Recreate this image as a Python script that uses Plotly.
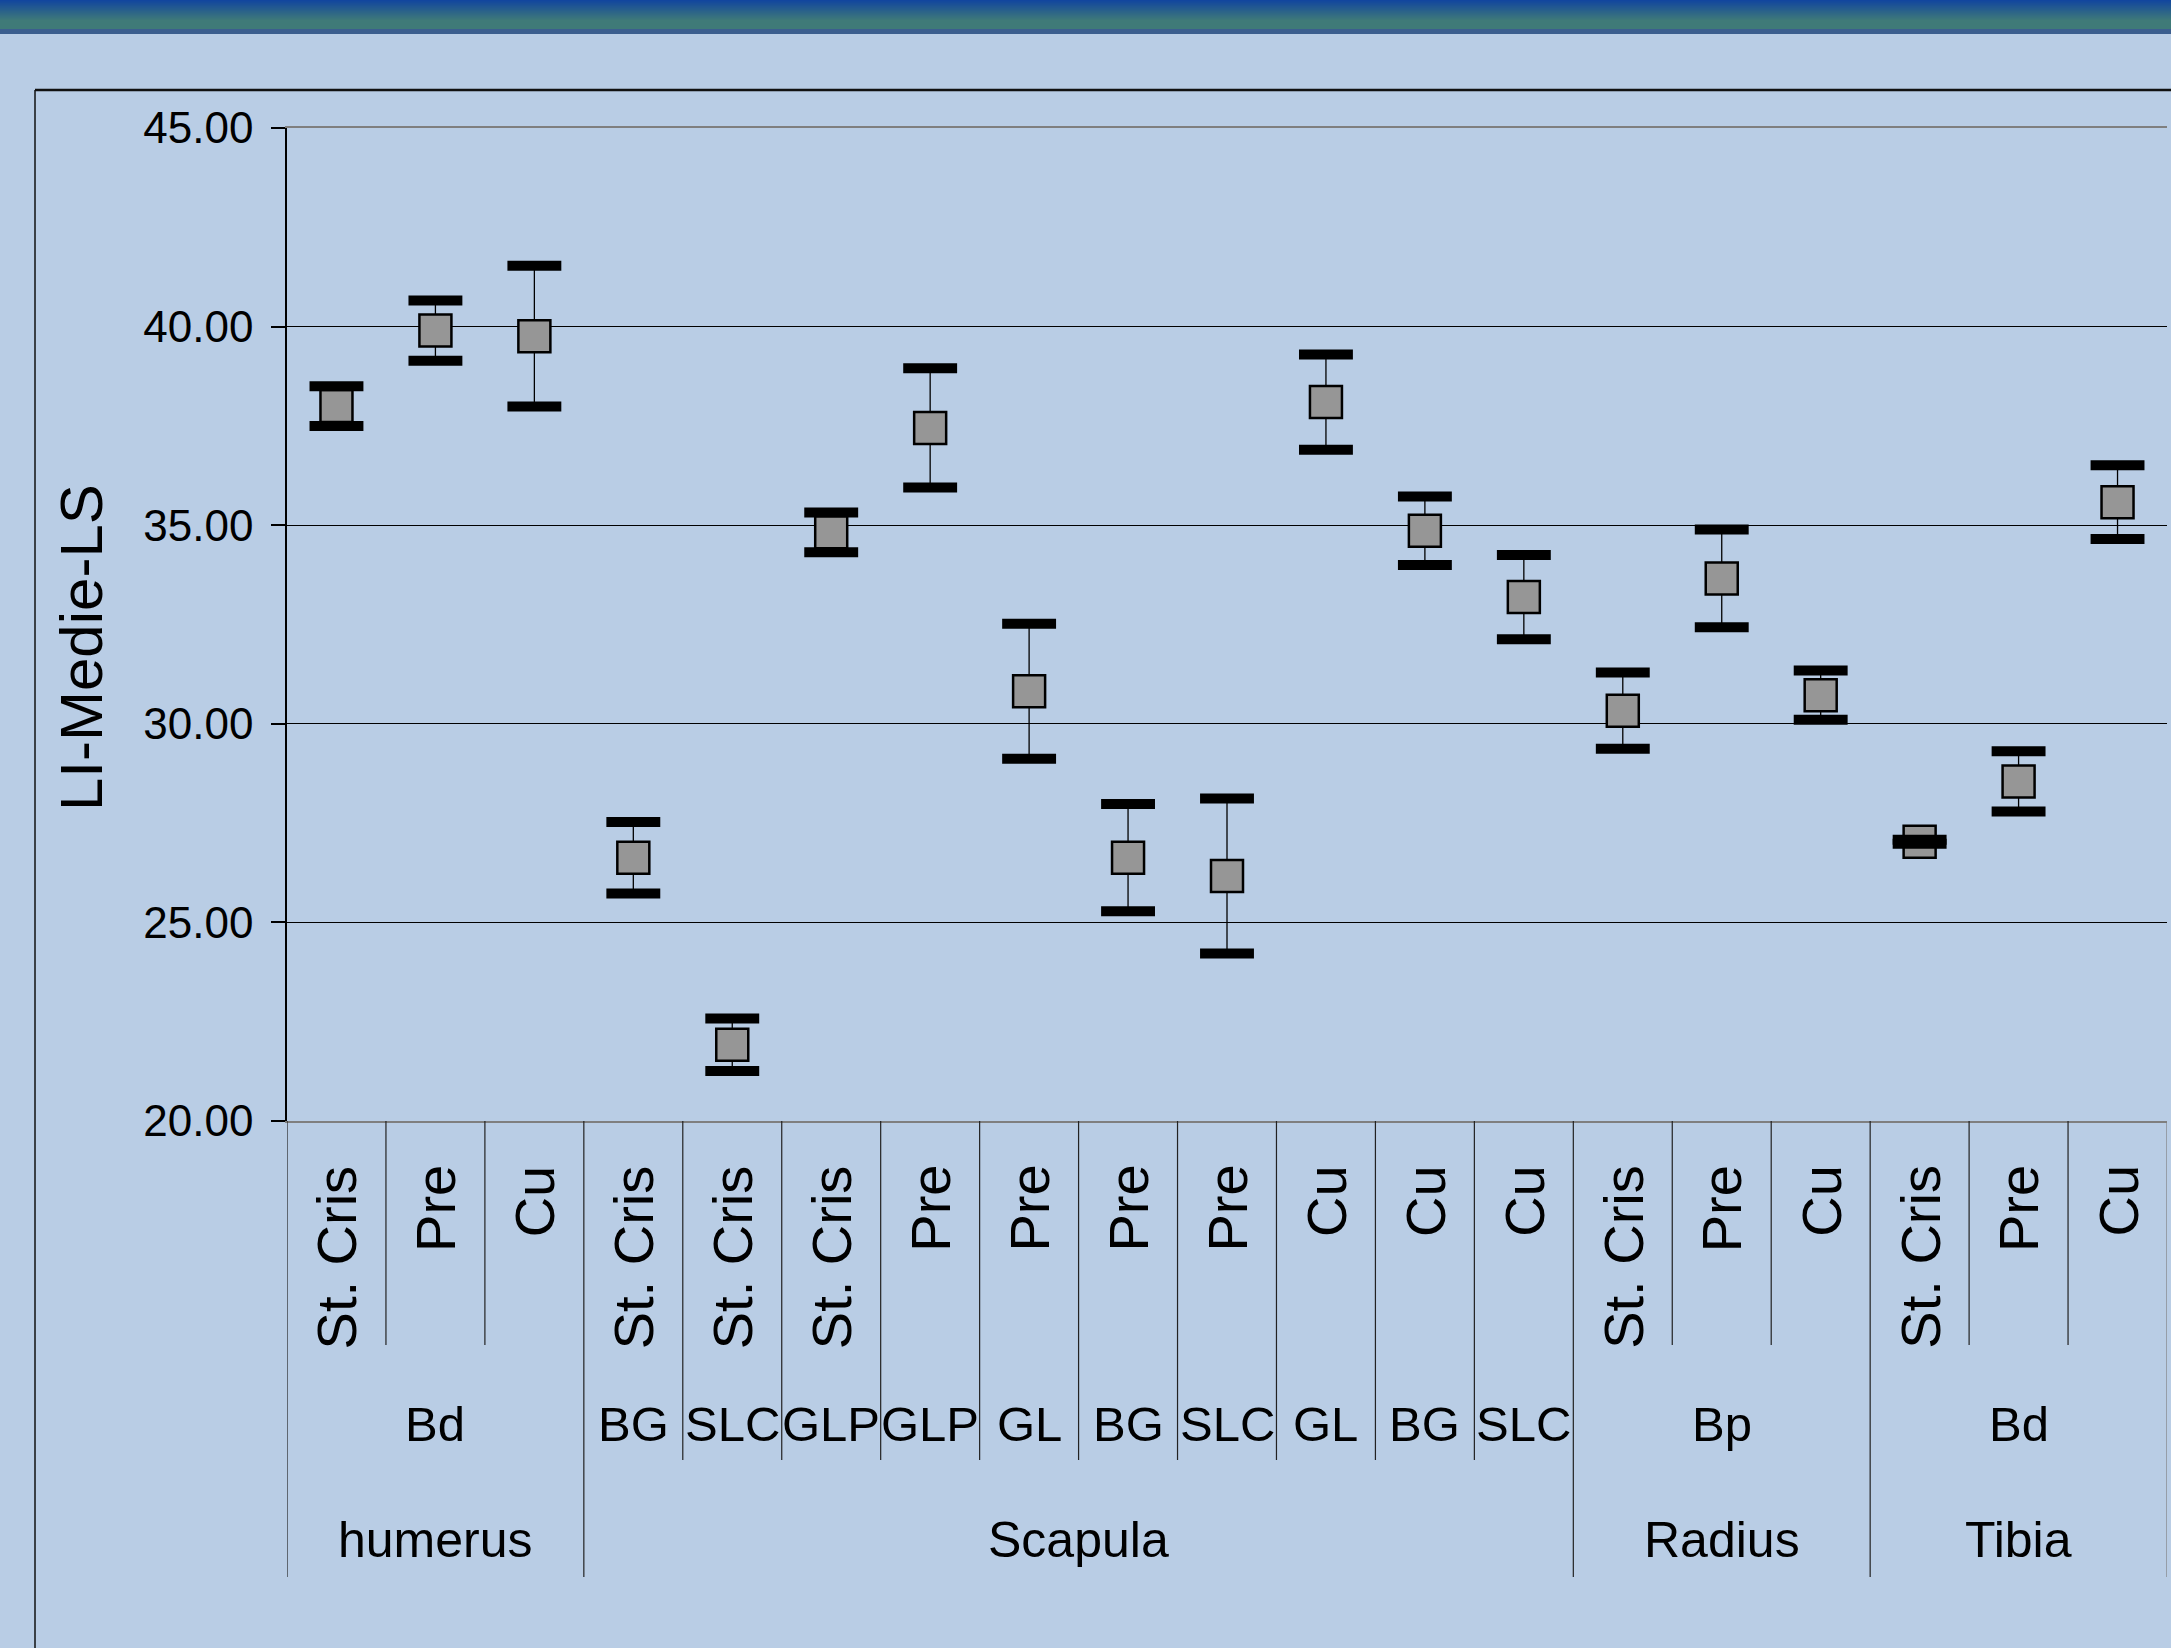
import plotly.graph_objects as go

# ---------------- data ----------------
sub_labels = ["St. Cris", "Pre", "Cu", "St. Cris", "St. Cris", "St. Cris", "Pre", "Pre", "Pre", "Pre",
              "Cu", "Cu", "Cu", "St. Cris", "Pre", "Cu", "St. Cris", "Pre", "Cu"]
measure_groups = [("Bd", 3), ("BG", 1), ("SLC", 1), ("GLP", 1), ("GLP", 1), ("GL", 1), ("BG", 1),
                  ("SLC", 1), ("GL", 1), ("BG", 1), ("SLC", 1), ("Bp", 3), ("Bd", 3)]
bone_groups = [("humerus", 3), ("Scapula", 10), ("Radius", 3), ("Tibia", 3)]
means = [38.00, 39.90, 39.76, 26.63, 21.92, 34.82, 37.45, 30.82, 26.63, 26.17,
         38.10, 34.86, 33.19, 30.33, 33.66, 30.72, 27.03, 28.55, 35.58]
errors = [0.50, 0.76, 1.77, 0.90, 0.66, 0.50, 1.50, 1.70, 1.35, 1.95,
          1.20, 0.86, 1.06, 0.96, 1.23, 0.62, 0.05, 0.76, 0.93]
y_title = "LI-Medie-LS"

# ---------------- layout constants (pixels) ----------------
W, H = 2171, 1648
L, R, T, B = 287, 4, 128, 527
PW, PH = W - L - R, H - T - B
BG = "#b9cde5"
FONT = "Liberation Sans, Arial, sans-serif"


def px_x(xp):
    return (xp - L) / PW


def px_y(yp):
    return (H - B - yp) / PH


n = len(means)
xs = list(range(n))
upper = [m + e for m, e in zip(means, errors)]
lower = [m - e for m, e in zip(means, errors)]

fig = go.Figure()
# thin error stems
fig.add_trace(go.Scatter(
    x=xs, y=means, mode="markers",
    marker=dict(size=2, color="rgba(0,0,0,0)"),
    error_y=dict(type="data", array=errors, color="black", thickness=1.3, width=0),
    showlegend=False, hoverinfo="skip"))
# mean squares
fig.add_trace(go.Scatter(
    x=xs, y=means, mode="markers",
    marker=dict(symbol="square", size=32, color="#969696", line=dict(color="black", width=2.5)),
    showlegend=False))
# thick caps
fig.add_trace(go.Scatter(
    x=xs + xs, y=upper + lower, mode="markers",
    marker=dict(symbol="line-ew", size=38.5, color="black", line=dict(color="black", width=10)),
    showlegend=False, hoverinfo="skip"))

shapes = []
annotations = []

# banner gradient at top
top_c = (0x12, 0x46, 0x9e)
mid_c = (0x3f, 0x7a, 0x78)
for i in range(29):
    t = min(i / 20.0, 1.0)
    c = tuple(int(round(a + (b - a) * t)) for a, b in zip(top_c, mid_c))
    shapes.append(dict(type="rect", xref="paper", yref="paper",
                       x0=px_x(0), x1=px_x(W), y0=px_y(i + 1), y1=px_y(i),
                       fillcolor="rgb(%d,%d,%d)" % c, line=dict(width=0), layer="below"))
shapes.append(dict(type="rect", xref="paper", yref="paper",
                   x0=px_x(0), x1=px_x(W), y0=px_y(34), y1=px_y(29),
                   fillcolor="#3b5e8e", line=dict(width=0), layer="below"))
# outer chart frame
shapes.append(dict(type="line", xref="paper", yref="paper", x0=px_x(35), x1=px_x(W + 5),
                   y0=px_y(90), y1=px_y(90), line=dict(color="#111111", width=2.5)))
shapes.append(dict(type="line", xref="paper", yref="paper", x0=px_x(35), x1=px_x(35),
                   y0=px_y(90), y1=px_y(H + 5), line=dict(color="#111111", width=1.5)))

# category divider lines
Y1, Y2, Y3 = px_y(1345), px_y(1460), px_y(1577)
b2 = set()
pos = 0
for lab, c in measure_groups:
    pos += c
    b2.add(pos)
b3 = set()
pos = 0
for lab, c in bone_groups:
    pos += c
    b3.add(pos)
for i in range(n + 1):
    if i == 0 or i == n or i in b3:
        yb = Y3
    elif i in b2:
        yb = Y2
    else:
        yb = Y1
    col = "#7f7f7f" if i == n else "#222222"
    shapes.append(dict(type="line", xref="x", yref="paper", x0=i - 0.5, x1=i - 0.5,
                       y0=0, y1=yb, line=dict(color=col, width=1.2)))

# rotated sub-labels
for i, lab in enumerate(sub_labels):
    annotations.append(dict(x=i, y=px_y(1163), xref="x", yref="paper", text=lab,
                            textangle=-90, showarrow=False, xanchor="center", yanchor="top",
                            font=dict(family=FONT, size=56, color="black")))
# measure labels
pos = 0
for lab, c in measure_groups:
    annotations.append(dict(x=pos + (c - 1) / 2, y=px_y(1424), xref="x", yref="paper", text=lab,
                            showarrow=False, xanchor="center", yanchor="middle",
                            font=dict(family=FONT, size=49, color="black")))
    pos += c
# bone labels
pos = 0
for lab, c in bone_groups:
    annotations.append(dict(x=pos + (c - 1) / 2, y=px_y(1540), xref="x", yref="paper", text=lab,
                            showarrow=False, xanchor="center", yanchor="middle",
                            font=dict(family=FONT, size=50, color="black")))
    pos += c
# y title
annotations.append(dict(x=px_x(81), y=px_y(648), xref="paper", yref="paper", text=y_title,
                        textangle=-90, showarrow=False, xanchor="center", yanchor="middle",
                        font=dict(family=FONT, size=60, color="black")))

fig.update_layout(
    width=W, height=H,
    margin=dict(l=L, r=R, t=T, b=B, pad=0),
    paper_bgcolor=BG, plot_bgcolor=BG,
    shapes=shapes, annotations=annotations,
    showlegend=False,
    xaxis=dict(range=[-0.5, n - 0.5], showticklabels=False, ticks="", showgrid=False,
               zeroline=False, showline=True, mirror=True, linecolor="#7f7f7f", linewidth=2,
               fixedrange=True),
    yaxis=dict(range=[20, 45], dtick=5, tick0=20, tickformat=".2f", ticks="outside", ticklen=14,
               tickcolor="black", tickwidth=1.5, showline=True, linecolor="black", linewidth=1.5,
               gridcolor="black", gridwidth=1, zeroline=False, ticklabelstandoff=9,
               tickfont=dict(family=FONT, size=44, color="black"), fixedrange=True),
)

fig.write_html("out.html", config={"displayModeBar": False},
               post_script="document.body.style.margin='0';document.body.style.overflow='hidden';")
